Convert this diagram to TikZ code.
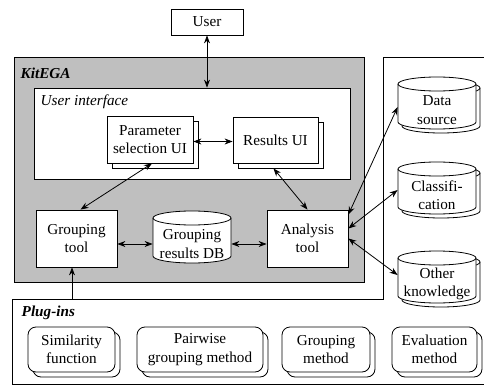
\documentclass[tikz,border=0pt]{standalone}
\usepackage{fontspec}
\setmainfont{Liberation Serif}
\usetikzlibrary{arrows.meta,shadows}

\newcommand\figfont{\fontsize{15.2}{18.5}\selectfont}

% database drum round a centre; optional list of offsets gives the stacked copies
\newcommand\drum[2][0]{%
  \foreach \d in {#1}{%
    \begin{scope}[shift={#2}, xshift=\d, yshift=-\d]
      \filldraw[fill=white] (-39,19) -- (-39,-19)
        arc[start angle=180, end angle=360, x radius=39, y radius=7]
        -- (39,19) arc[start angle=0, end angle=180, x radius=39, y radius=7] -- cycle;
      \draw (39,19) arc[start angle=0, end angle=-180, x radius=39, y radius=7];
    \end{scope}
  }%
}

\begin{document}
\begin{tikzpicture}[x=1pt, y=1pt, line width=0.8pt, font=\figfont,
    >={Stealth[length=8pt, width=6pt]},
    box/.style={draw, fill=white, align=center, inner sep=2pt, font=\figfont},
    uibox/.style={box, copy shadow={shadow xshift=5pt, shadow yshift=-5pt, draw, fill=white}},
    plugin/.style={box, rounded corners=8pt, minimum height=45,
      copy shadow={shadow xshift=5pt, shadow yshift=-5pt, draw, fill=white}},
    store/.style={align=center, inner sep=0pt, minimum width=78, minimum height=36, font=\figfont},
    title/.style={anchor=west, font=\figfont\bfseries\itshape}]

    \useasboundingbox (0,0) rectangle (484,-385);

    % frame of knowledge sources and plug-ins
    \draw (490,-57) -- (383,-57) -- (383,-299) -- (12,-299) -- (12,-384.4) -- (490,-384.4);
    \coordinate (plugtop) at (72,-299);

    % kitega and user interface
    \node[draw, fill=black!25, minimum width=350, minimum height=225] (kitega) at (189,-169.5) {};
    \node[draw, fill=white, minimum width=316, minimum height=91] (ui) at (192,-133.5) {};
    \node[title] (kitegalbl) at (17,-73) {KitEGA};
    \node[anchor=west, font=\figfont\itshape] (uilbl) at (37,-102) {User interface};
    \node[title] (pluglbl) at (18,-313) {Plug-ins};

    % user
    \node[box, minimum width=72, minimum height=26] (user) at (207,-22) {User};

    % ui parts
    \node[uibox, minimum width=86, minimum height=47] (param) at (150,-139.5) {Parameter\\selection UI};
    \node[uibox, minimum width=85, minimum height=46] (results) at (275.5,-140) {Results UI};

    % tools
    \node[box, minimum width=81, minimum height=57] (group) at (76.5,-238.5) {Grouping\\tool};
    \drum{(192,-237)}
    \node[store] (grdb) at (192,-244) {Grouping\\results DB};
    \node[box, minimum width=81, minimum height=57] (analysis) at (307.5,-238.5) {Analysis\\tool};

    % knowledge sources
    \drum[4,0]{(437,-103)}
    \node[store] (data) at (437,-110) {Data\\source};
    \drum[4,0]{(437,-188)}
    \node[store] (class) at (437,-195) {Classifi-\\cation};
    \drum[4,0]{(437,-277)}
    \node[store] (other) at (437,-284) {Other\\knowledge};

    % plug-ins
    \node[plugin, minimum width=87] (simfun) at (71.5,-349.5) {Similarity\\function};
    \node[plugin, minimum width=126] (pairwise) at (200,-349.5) {Pairwise\\grouping method};
    \node[plugin, minimum width=88] (groupmeth) at (326,-349.5) {Grouping\\method};
    \node[plugin, minimum width=85] (evalmeth) at (434.5,-349.5) {Evaluation\\method};

    % connections
    \draw[<->] (user.south) -- (user.south |- ui.north);
    \draw[<->] ([yshift=-2]param.east) -- ([yshift=-2]param.east -| results.west);
    \draw[<->] ([xshift=2]param.south) -- ([xshift=4]group.north);
    \draw[<->] ([xshift=-2,yshift=-5]results.south) -- (analysis.north);
    \draw[<->] (group.east |- grdb.west) -- (grdb.west);
    \draw[<->] (grdb.east) -- (analysis.west |- grdb.east);
    \draw[<->] ([yshift=24]analysis.east) -- ([yshift=3]data.west);
    \draw[<->] ([yshift=10]analysis.east) -- ([yshift=5]class.west);
    \draw[<->] (analysis.east) -- ([yshift=9]other.west);
    \draw[->] (plugtop) -- (plugtop |- group.south);
\end{tikzpicture}
\end{document}
